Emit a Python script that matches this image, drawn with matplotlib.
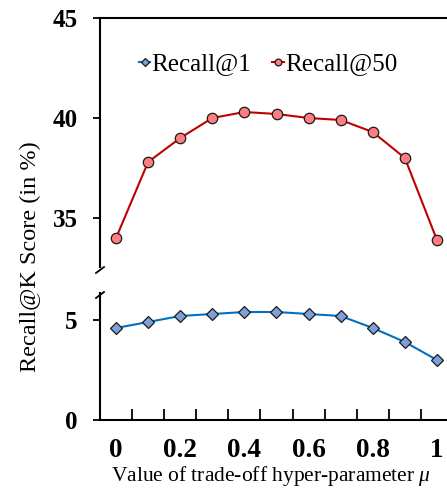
import matplotlib
matplotlib.use("Agg")
import matplotlib.pyplot as plt
import numpy as np

plt.rcParams["font.family"] = ["Liberation Serif", "DejaVu Serif"]
plt.rcParams["mathtext.fontset"] = "custom"
plt.rcParams["mathtext.rm"] = "Liberation Serif"
plt.rcParams["mathtext.it"] = "Liberation Serif:italic"

mu_values = [0.0, 0.1, 0.2, 0.3, 0.4, 0.5, 0.6, 0.7, 0.8, 0.9, 1.0]
recall_at_1 = [4.6, 4.9, 5.2, 5.3, 5.4, 5.4, 5.3, 5.2, 4.6, 3.9, 3.0]
recall_at_50 = [34.0, 37.8, 39.0, 40.0, 40.3, 40.2, 40.0, 39.9, 39.3, 38.0, 33.9]
x_tick_values = [0, 0.2, 0.4, 0.6, 0.8, 1.0]
x_tick_labels = ["0", "0.2", "0.4", "0.6", "0.8", "1"]

W, H = 447, 488
fig = plt.figure(figsize=(W / 100, H / 100), dpi=100)

left = 100 / W
width = 353 / W
ax_top = fig.add_axes([left, 1 - 267 / H, width, 249 / H])
ax_bot = fig.add_axes([left, 1 - 420 / H, width, 127 / H])

red_line = "#C00000"
red_fill = "#FF7C80"
blue_line = "#0070C0"
blue_fill = "#7F9FD8"

for ax in (ax_top, ax_bot):
    ax.plot(mu_values, recall_at_1, color=blue_line, linewidth=1.5, marker="D",
            markersize=6, markerfacecolor=blue_fill, markeredgecolor="#1a1a1a",
            markeredgewidth=0.9, label="Recall@1")
    ax.plot(mu_values, recall_at_50, color=red_line, linewidth=1.5, marker="o",
            markersize=7.5, markerfacecolor=red_fill, markeredgecolor="#1a1a1a",
            markeredgewidth=0.9, label="Recall@50")
    ax.set_xlim(-0.05, 1.05)
    for side in ("left", "right", "top", "bottom"):
        ax.spines[side].set_linewidth(1.5)
        ax.spines[side].set_color("black")
    ax.spines["right"].set_visible(False)
    ax.tick_params(axis="y", direction="out", length=5, width=1.3, pad=11,
                   labelsize=18)

ax_top.set_ylim(45 - 249 / 20, 45)
ax_top.set_yticks([35, 40, 45])
ax_top.set_yticklabels(["35", "40", "45"], fontweight="bold")
ax_top.spines["bottom"].set_visible(False)
ax_top.tick_params(axis="x", which="both", bottom=False, labelbottom=False)

ax_bot.set_ylim(0, 127 / 20)
ax_bot.set_yticks([0, 5])
ax_bot.set_yticklabels(["0", "5"], fontweight="bold")
ax_bot.spines["top"].set_visible(False)
ax_bot.set_xticks(x_tick_values)
ax_bot.set_xticklabels(x_tick_labels, fontweight="bold", fontsize=19.5)
ax_bot.set_xticks(np.arange(0.05, 1.06, 0.1), minor=True)
ax_bot.tick_params(axis="x", which="major", length=0, pad=13)
ax_bot.tick_params(axis="x", which="minor", direction="in", length=8, width=1.3)

# break marks on the left spine
for y0 in (267, 292):
    fig.add_artist(plt.Line2D([96 / W, 104 / W], [1 - (y0 + 6) / H, 1 - y0 / H],
                              color="black", linewidth=1.3))

handles, labels = ax_top.get_legend_handles_labels()
leg = fig.legend(handles, labels, loc="center", bbox_to_anchor=(268 / W, 1 - 64 / H),
                 ncol=2, frameon=False, fontsize=18, handlelength=0.45,
                 handletextpad=0.05, columnspacing=0.85, markerscale=0.65,
                 borderaxespad=0)

fig.text(30 / W, 1 - 257 / H, "Recall@K Score (in %)", rotation=90,
         ha="center", va="center", fontsize=17.5)
fig.text(271 / W, 1 - 476 / H, r"Value of trade-off hyper-parameter $\mu$",
         ha="center", va="center", fontsize=15.5)

fig.savefig("out.png", dpi=100)
